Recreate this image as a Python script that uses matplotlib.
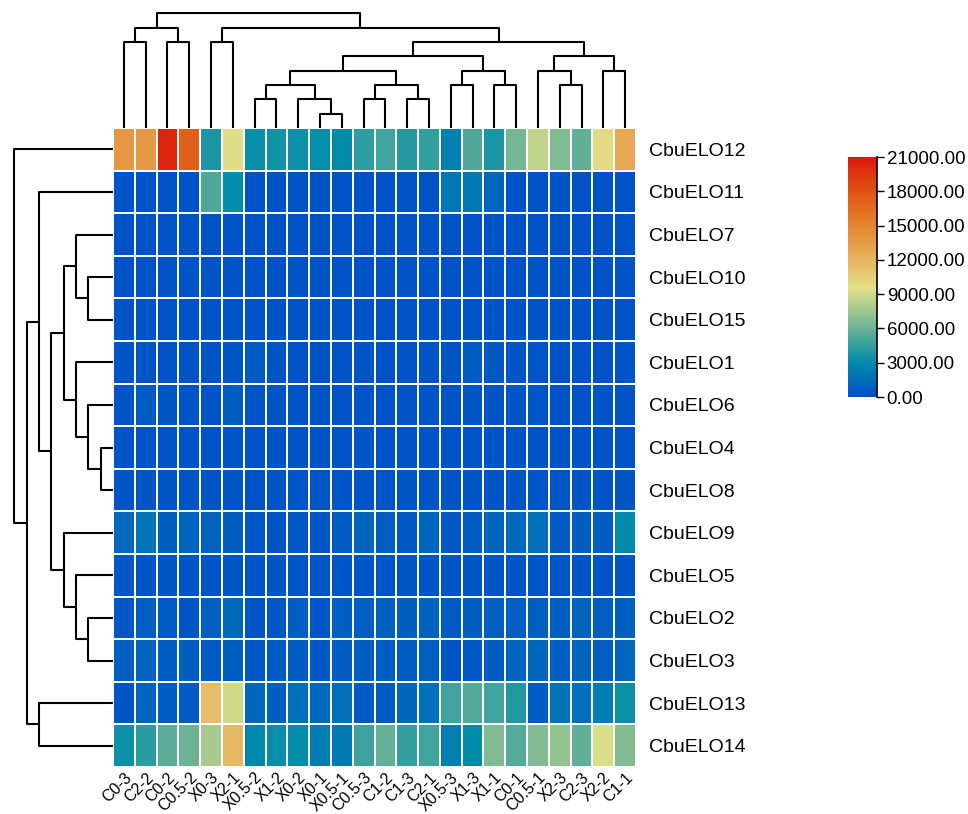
import numpy as np
import matplotlib
matplotlib.use('Agg')
import matplotlib.pyplot as plt
from matplotlib.colors import LinearSegmentedColormap

plt.rcParams['font.family'] = ['Liberation Sans', 'DejaVu Sans']

# samples, in clustered order (left to right)
samples = ['C0-3', 'C2-2', 'C0-2', 'C0.5-2', 'X0-3', 'X2-1', 'X0.5-2', 'X1-2',
           'X0-2', 'X0-1', 'X0.5-1', 'C0.5-3', 'C1-2', 'C1-3', 'C2-1', 'X0.5-3',
           'X1-3', 'X1-1', 'C0-1', 'C0.5-1', 'X2-3', 'C2-3', 'X2-2', 'C1-1']

# genes, in clustered order (top to bottom)
genes = ['CbuELO12', 'CbuELO11', 'CbuELO7', 'CbuELO10', 'CbuELO15', 'CbuELO1',
         'CbuELO6', 'CbuELO4', 'CbuELO8', 'CbuELO9', 'CbuELO5', 'CbuELO2',
         'CbuELO3', 'CbuELO13', 'CbuELO14']

# expression values (rows = genes, cols = samples)
elo12 = [13800, 13700, 20500, 17200, 3800, 9600, 3200, 3500, 3300, 3100, 3000, 4300,
         4800, 4100, 4400, 2400, 5200, 3700, 6300, 8600, 6600, 5700, 9800, 12800]
elo11 = [200, 200, 200, 200, 5200, 3100, 200, 200, 200, 200, 200, 200,
         200, 200, 200, 1900, 2000, 1200, 200, 200, 200, 200, 200, 200]
elo7 = [150, 150, 150, 150, 150, 150, 150, 150, 150, 150, 150, 150,
        150, 150, 150, 150, 150, 150, 150, 150, 150, 150, 150, 150]
elo10 = [150, 150, 150, 150, 250, 150, 150, 150, 150, 150, 150, 150,
         150, 150, 150, 150, 150, 150, 150, 150, 150, 150, 150, 250]
elo15 = [150, 250, 150, 150, 150, 150, 150, 150, 150, 150, 150, 200,
         150, 150, 200, 150, 150, 150, 150, 150, 150, 150, 150, 200]
elo1 = [300, 250, 200, 200, 250, 250, 550, 250, 200, 200, 200, 250,
        200, 200, 250, 250, 650, 450, 250, 250, 200, 200, 200, 300]
elo6 = [250, 550, 250, 250, 300, 600, 250, 250, 200, 200, 200, 250,
        200, 200, 300, 250, 250, 250, 300, 250, 200, 200, 250, 300]
elo4 = [200, 200, 200, 200, 200, 200, 200, 200, 200, 200, 200, 250,
        200, 200, 200, 200, 200, 200, 200, 200, 200, 200, 200, 200]
elo8 = [250, 300, 250, 300, 250, 300, 200, 250, 300, 250, 250, 300,
        300, 250, 300, 250, 300, 250, 300, 250, 300, 250, 250, 300]
elo9 = [1300, 1800, 900, 1100, 1000, 800, 400, 300, 400, 300, 500, 1100,
        800, 400, 1100, 400, 500, 1100, 1300, 1600, 500, 800, 700, 2900]
elo5 = [400, 300, 300, 300, 300, 300, 300, 300, 300, 300, 300, 300,
        300, 300, 300, 300, 300, 300, 300, 300, 300, 300, 300, 300]
elo2 = [400, 700, 500, 300, 800, 1300, 300, 400, 700, 300, 700, 700,
        800, 900, 1000, 500, 700, 800, 700, 800, 700, 1000, 800, 900]
elo3 = [900, 1000, 700, 800, 500, 900, 400, 500, 500, 400, 600, 800,
        600, 600, 800, 300, 400, 500, 1000, 1100, 700, 1000, 800, 1100]
elo13 = [300, 1000, 700, 600, 11500, 9000, 1200, 900, 1500, 1300, 1600, 500,
         500, 1200, 1700, 4800, 5300, 4800, 4000, 600, 1800, 1500, 2300, 3300]
elo14 = [3400, 4200, 5500, 6000, 7800, 11800, 2800, 3200, 3100, 2300, 2100, 4700,
         5800, 4500, 4800, 2400, 3000, 6600, 5400, 6700, 7200, 5700, 9300, 6700]

values = np.array([elo12, elo11, elo7, elo10, elo15, elo1, elo6, elo4, elo8,
                   elo9, elo5, elo2, elo3, elo13, elo14], dtype=float)

# dendrograms as (height, left, right); leaves are display indices
col_tree = (8,
            (7, (6, 0, 1), (6, 2, 3)),
            (7, (6, 4, 5),
             (6,
              (5,
               (4,
                (3, (2, 6, 7), (2, 8, (1, 9, 10))),
                (3, (2, 11, 12), (2, 13, 14))),
               (4, (3, 15, 16), (3, 17, 18))),
              (5,
               (4, 19, (3, 20, 21)),
               (4, 22, 23)))))

row_tree = (8, 0,
            (7,
             (6, 1,
              (5,
               (4,
                (3, 2, (2, 3, 4)),
                (3, 5, (2, 6, (1, 7, 8)))),
               (4, 9, (3, 10, (2, 11, 12))))),
             (6, 13, 14)))

cbar_ticks = [0, 3000, 6000, 9000, 12000, 15000, 18000, 21000]
vmax = 21000

cmap = LinearSegmentedColormap.from_list('tb', [
    (0.0, '#0050c8'),
    (3000 / vmax, '#008caa'),
    (6000 / vmax, '#6cb394'),
    (9500 / vmax, '#e2e088'),
    (12000 / vmax, '#e8b460'),
    (15000 / vmax, '#e3852f'),
    (18000 / vmax, '#df5312'),
    (1.0, '#dc1a0c'),
])


def draw_tree(ax, node, orient):
    if isinstance(node, int):
        return node + 0.5, 0
    h, a, b = node
    pa, ha = draw_tree(ax, a, orient)
    pb, hb = draw_tree(ax, b, orient)
    if orient == 'top':
        ax.plot([pa, pa, pb, pb], [ha, h, h, hb], color='black', lw=1.5,
                solid_capstyle='butt')
    else:
        ax.plot([ha, h, h, hb], [pa, pa, pb, pb], color='black', lw=1.5,
                solid_capstyle='butt')
    return (pa + pb) / 2, h


W, H = 968, 814
fig = plt.figure(figsize=(W / 100, H / 100), dpi=100)

hx0, hx1, hy0, hy1 = 113, 636, 128, 767
ax = fig.add_axes([hx0 / W, 1 - hy1 / H, (hx1 - hx0) / W, (hy1 - hy0) / H])
mesh = ax.pcolormesh(values, cmap=cmap, vmin=0, vmax=vmax,
                     edgecolors='white', linewidth=1.2)
ax.set_xlim(0, len(samples))
ax.set_ylim(len(genes), 0)
ax.set_xticks(np.arange(len(samples)) + 0.5)
ax.set_xticklabels(samples, rotation=45, ha='right', va='top',
                   rotation_mode='anchor', fontsize=11.5)
ax.set_yticks(np.arange(len(genes)) + 0.5)
ax.set_yticklabels(genes, fontsize=14)
ax.yaxis.tick_right()
ax.tick_params(axis='both', length=0)
ax.tick_params(axis='x', pad=2)
ax.tick_params(axis='y', pad=9)
for s in ax.spines.values():
    s.set_visible(False)

# top dendrogram
axt = fig.add_axes([hx0 / W, 1 - hy0 / H, (hx1 - hx0) / W, (hy0 - 12) / H])
draw_tree(axt, col_tree, 'top')
axt.set_xlim(0, len(samples))
axt.set_ylim(0, 8.1)
axt.axis('off')

# left dendrogram
axl = fig.add_axes([13 / W, 1 - hy1 / H, (hx0 - 13) / W, (hy1 - hy0) / H])
draw_tree(axl, row_tree, 'left')
axl.set_xlim(8.1, 0)
axl.set_ylim(len(genes), 0)
axl.axis('off')

# colour bar
cax = fig.add_axes([848 / W, 1 - 397 / H, 29 / W, 240 / H])
cbar = fig.colorbar(mesh, cax=cax, ticks=cbar_ticks)
cbar.outline.set_visible(False)
cax.axvline(1, color='black', lw=1.2, clip_on=False)
cax.set_yticklabels(['%.2f' % t for t in cbar_ticks], fontsize=13.5)
cax.tick_params(length=5, width=1, pad=2)

fig.savefig('out.png', dpi=100)
